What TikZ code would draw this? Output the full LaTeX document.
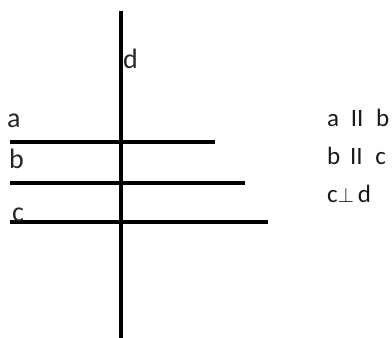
\documentclass[tikz,border=0pt]{standalone}
\usepackage{fontspec}
\setmainfont{Carlito}
\begin{document}
\begin{tikzpicture}[x=1pt,y=-1pt,
  line/.style={line width=4pt, black},
  lbl/.style={inner sep=0pt, anchor=base west, text=black!85, font=\fontsize{28}{28}\selectfont},
  rel/.style={inner sep=0pt, anchor=base west, text=black!90, font=\fontsize{25}{25}\selectfont}]
\useasboundingbox (0,0) rectangle (392,338);
% vertical line d
\coordinate (dT) at (120.5,11);
\coordinate (dB) at (120.5,338);
\draw[line] (dT) -- (dB);
% horizontal lines
\coordinate (aL) at (10,142);
\coordinate (aR) at (215,142);
\coordinate (bL) at (10,183);
\coordinate (bR) at (245,183);
\coordinate (cL) at (10,222);
\coordinate (cR) at (268,222);
\draw[line] (aL) -- (aR);
\draw[line] (bL) -- (bR);
\draw[line] (cL) -- (cR);
% labels
\node[lbl] (ld) at (123,68) {d};
\node[lbl] (la) at (7,127) {a};
\node[lbl] (lb) at (9,168) {b};
\node[lbl] (lc) at (12,221) {c};
% relations
\node[rel] (r1) at (327,126) {a\hspace{13pt}\makebox[10pt][c]{II}\hspace{14pt}b};
\node[rel] (r2) at (327,164) {b\hspace{11pt}\makebox[10pt][c]{II}\hspace{14pt}c};
\node[rel] (r3) at (327,202) {c{\fontsize{20}{20}\selectfont$\perp$}\hspace{4pt}d};
\end{tikzpicture}
\end{document}
